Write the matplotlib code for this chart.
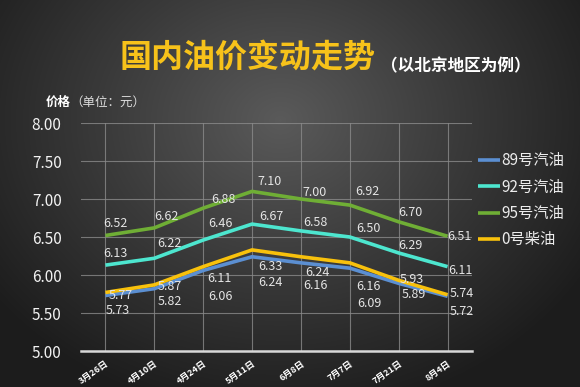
import numpy as np
import matplotlib
matplotlib.use("Agg")
import matplotlib.pyplot as plt
from matplotlib.colors import LinearSegmentedColormap

plt.rcParams['font.family'] = ['Noto Sans CJK SC', 'DejaVu Sans']

# data
dates = ["3月26日", "4月10日", "4月24日", "5月11日", "6月8日", "7月7日", "7月21日", "8月4日"]
gas_89 = [5.73, 5.82, 6.06, 6.24, 6.16, 6.09, 5.89, 5.72]
gas_92 = [6.13, 6.22, 6.46, 6.67, 6.58, 6.50, 6.29, 6.11]
gas_95 = [6.52, 6.62, 6.88, 7.10, 7.00, 6.92, 6.70, 6.51]
diesel_0 = [5.77, 5.87, 6.11, 6.33, 6.24, 6.16, 5.93, 5.74]
series_names = ["89号汽油", "92号汽油", "95号汽油", "0号柴油"]
yticks = [5.00, 5.50, 6.00, 6.50, 7.00, 7.50, 8.00]

colors = ["#5b8fd2", "#4de6cf", "#6fae35", "#f8c10c"]

# label offsets in pixels (dx, dy) for each point of each series
label_dx = [
    [12, 16, 17, 18, 14, 20, 15, 14],
    [10, 15, 17, 19, 14, 19, 12, 13],
    [10, 12, 20, 18, 14, 18, 12, 12],
    [15, 15, 16, 18, 16, 19, 13, 14],
]
label_dy = [
    [-15, -13, -26, -26, -23, -35, -11, -15],
    [12, 15, 17, 8, 8, 9, 7, -4],
    [12, 11, 9, 10, 7, 14, 9, 0],
    [-3, -2, -12, -17, -16, -24, 1, 1],
]

fig = plt.figure(figsize=(5.8, 3.87), dpi=100)

# dark radial background
bg = fig.add_axes([0, 0, 1, 1], zorder=-10)
yy, xx = np.mgrid[0:387, 0:580]
r = np.sqrt(((xx - 280) / 360.0) ** 2 + ((yy - 120) / 300.0) ** 2)
cmap = LinearSegmentedColormap.from_list("bg", ["#5a5a5a", "#3a3a3a", "#1c1c1c"])
bg.imshow(np.clip(r, 0, 1), cmap=cmap, aspect="auto", vmin=0, vmax=1)
bg.axis("off")

ax = fig.add_axes([81 / 580, 1 - 351 / 387, 391 / 580, 228 / 387])
ax.set_facecolor("none")
x = np.arange(len(dates))

lines = []
for i, vals in enumerate([gas_89, gas_92, gas_95, diesel_0]):
    ln, = ax.plot(x, vals, color=colors[i], lw=2.6, solid_capstyle="butt", zorder=3 + i)
    lines.append(ln)
    for j, v in enumerate(vals):
        ax.annotate(f"{v:.2f}", (x[j], v), xytext=(label_dx[i][j], label_dy[i][j]),
                    textcoords="offset pixels", ha="center", va="center",
                    fontsize=9, color="#e4e4e4", zorder=10)

ax.set_xlim(-0.5, len(dates) - 0.5)
ax.set_ylim(5, 8)
ax.set_yticks(yticks)
ax.set_yticklabels([f"{t:.2f}" for t in yticks])
ax.set_xticks(x)
ax.set_xticklabels(dates, rotation=35, ha="right", rotation_mode="anchor",
                   fontsize=6.5, fontweight="bold", color="white")
ax.tick_params(axis="y", length=0, pad=14, labelsize=11, labelcolor="#f2f2f2")
ax.tick_params(axis="x", length=0, pad=6)
ax.grid(True, color="#8a8a8a", lw=0.8, alpha=0.8)
ax.set_axisbelow(True)
for s in ["left", "right", "top"]:
    ax.spines[s].set_visible(False)
ax.spines["bottom"].set_color("#d8d8d8")
ax.spines["bottom"].set_linewidth(1.8)

ax.legend(lines, series_names, loc="upper left", bbox_to_anchor=(478 / 580, 1 - 152 / 387),
          bbox_transform=fig.transFigure, frameon=False, fontsize=11,
          handlelength=1.45, handletextpad=0.1, labelspacing=0.62,
          borderpad=0, borderaxespad=0, labelcolor="#ececec")

fig.text(248 / 580, 1 - 58 / 387, "国内油价变动走势", ha="center", va="center",
         fontsize=23, fontweight="bold", color="#f7c21a")
fig.text(381 / 580, 1 - 66 / 387, "（以北京地区为例）", ha="left", va="center",
         fontsize=12, fontweight="bold", color="white")
fig.text(46 / 580, 1 - 102 / 387, "价格", ha="left", va="center",
         fontsize=9, fontweight="bold", color="white")
fig.text(70 / 580, 1 - 102 / 387, "（单位：元）", ha="left", va="center",
         fontsize=9, color="#dddddd")

fig.savefig("out.png", dpi=100)
